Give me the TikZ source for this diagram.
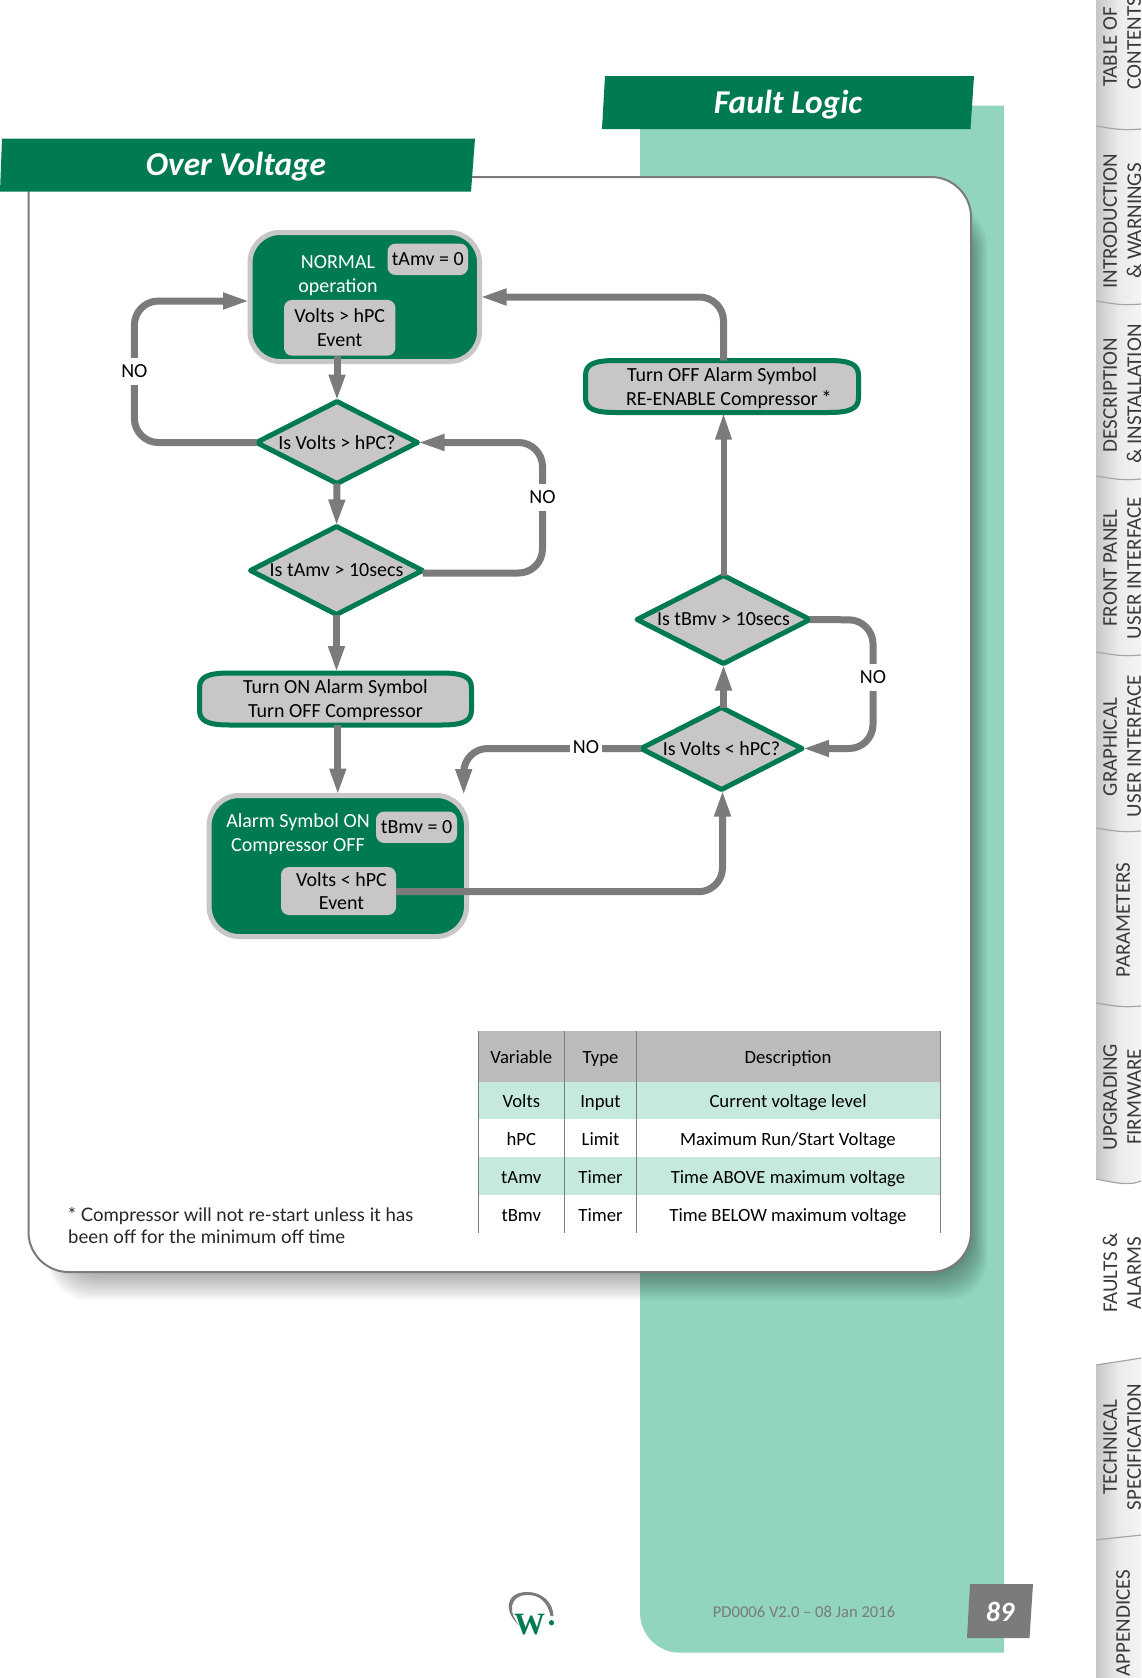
\documentclass[tikz,border=0pt]{standalone}
\usepackage{fontspec}
\setmainfont{Carlito}
\newfontfamily\foot{Lato}
\newfontfamily\serifw{Liberation Serif}
\usetikzlibrary{arrows.meta,shapes.geometric,calc}
\definecolor{brand}{HTML}{007A53}
\definecolor{mint}{HTML}{90D5BC}
\definecolor{pale}{HTML}{C6E9DD}
\definecolor{arrowgrey}{HTML}{7B7B7D}
\definecolor{boxgrey}{HTML}{C8C6C8}
\definecolor{headgrey}{HTML}{BBBBBB}
\definecolor{tabtext}{HTML}{3A3A3A}
\newcommand{\fs}[1]{\fontsize{#1}{#1}\selectfont}
\tikzset{
  every node/.style={outer sep=0pt,inner sep=0pt},
  txt/.style={font=\fs{20},align=center,text=black},
  wtxt/.style={font=\fs{20},align=center,text=white},
  subbox/.style={fill=boxgrey,rounded corners=8pt,font=\fs{20},align=center,text=black},
  statebox/.style={draw=boxgrey,fill=brand,line width=5pt,rounded corners=30pt},
  decide/.style={diamond,draw=brand,fill=boxgrey,line width=5pt,line join=round,font=\fs{20},text=black,shape aspect=1},
  conn/.style={draw=arrowgrey,line width=7pt,rounded corners=24pt},
  tip/.style={-{Triangle[length=27pt,width=15pt]}},
  nolabel/.style={fill=white,font=\fs{20},text=black,minimum width=30pt,minimum height=27pt},
  header/.style={fill=brand},
  title/.style={font=\fs{33.3}\bfseries\itshape,text=white},
  celltxt/.style={font=\fs{18.7},text=black,text height=13pt,text depth=4pt},
  tablerule/.style={draw=arrowgrey,line width=1pt},
  tabl/.style={rotate=90,font=\fs{21},text=tabtext},
  tabsep/.style={draw=black!35,line width=1.2pt},
  elline/.style={draw=brand,fill=boxgrey,line width=5pt}
}
\newcommand{\elbox}[6]{%
  \begin{scope}[shift={(#2,#3)}]
    \def\hw{#4}\def\hh{#5}
    \draw[elline] (-\hw,-\hh+15) .. controls (-\hw,-\hh+4) and (-\hw+8,-\hh) .. (-\hw+30,-\hh)
      -- (\hw-30,-\hh) .. controls (\hw-8,-\hh) and (\hw,-\hh+4) .. (\hw,-\hh+15)
      -- (\hw,\hh-15) .. controls (\hw,\hh-4) and (\hw-8,\hh) .. (\hw-30,\hh)
      -- (-\hw+30,\hh) .. controls (-\hw+8,\hh) and (-\hw,\hh-4) .. (-\hw,\hh-15) -- cycle;
  \end{scope}
  \node[minimum width=2*#4 pt,minimum height=2*#5 pt] (#1) at (#2,#3) {};
  \node[txt] (#1txt) at (#2,#3+1.5) {#6};}
\begin{document}
\begin{tikzpicture}[x=1pt,y=-1pt]
\useasboundingbox (0,0) rectangle (1141,1678);
% tabs
\shade[left color=black!22,right color=black!4,shading angle=90,middle color=black!8] (1096,0) -- (1141,0) -- (1141,1181) .. controls (1130,1186) and (1115,1183) .. (1096,1179) -- cycle;
\shade[left color=black!22,right color=black!4,shading angle=90,middle color=black!8] (1096,1365) .. controls (1115,1362) and (1130,1360) .. (1141,1358) -- (1141,1678) -- (1096,1678) -- cycle;
\foreach \sy in {126,301,476,652,828,1003}{
  \draw[tabsep] (1096,\sy) .. controls (1110,\sy+2) and (1120,\sy+5) .. (1141,\sy+3);}
\draw[tabsep] (1096,1540) .. controls (1110,1538) and (1125,1537) .. (1141,1535);
\draw[tabsep] (1096,1179) .. controls (1115,1183) and (1130,1186) .. (1141,1181);
\draw[tabsep] (1096,1365) .. controls (1115,1362) and (1130,1360) .. (1141,1358);
\node[tabl] (t1a) at (1110,47) {TABLE OF};
\node[tabl] (t1b) at (1134,43) {CONTENTS};
\node[tabl] (t2a) at (1110,221) {INTRODUCTION};
\node[tabl] (t2b) at (1134,221) {\& WARNINGS};
\node[tabl] (t3a) at (1110,395) {DESCRIPTION};
\node[tabl] (t3b) at (1134,394) {\& INSTALLATION};
\node[tabl] (t4a) at (1110,568) {FRONT PANEL};
\node[tabl] (t4b) at (1134,568) {USER INTERFACE};
\node[tabl] (t5a) at (1110,747) {GRAPHICAL};
\node[tabl] (t5b) at (1134,746) {USER INTERFACE};
\node[tabl] (t6) at (1123,920) {PARAMETERS};
\node[tabl] (t7a) at (1110,1097) {UPGRADING};
\node[tabl] (t7b) at (1134,1097) {FIRMWARE};
\node[tabl] (t8a) at (1110,1273) {FAULTS \&};
\node[tabl] (t8b) at (1134,1273) {ALARMS};
\node[tabl] (t9a) at (1110,1447) {TECHNICAL};
\node[tabl] (t9b) at (1134,1447) {SPECIFICATION};
\node[tabl] (t10) at (1123,1623) {APPENDICES};
% mint band
\fill[mint] (640,105.7) -- (1004,105.7) -- (1004,1652.7) -- (680,1652.7) .. controls (658,1652.7) and (640,1634.7) .. (640,1612.7) -- cycle;
% shadow
\foreach \i in {0,...,18}{
  \fill[black,opacity=.025,rounded corners=40pt] ({48+\i},{205+\i}) rectangle ({987-1.1*\i},{1300-1.8*\i});}
% panel
\draw[draw=arrowgrey,fill=white,line width=2pt] (28.5,177) -- (931,177) .. controls (953,177) and (971,195) .. (971,217) -- (971,1232) .. controls (971,1254) and (953,1272) .. (931,1272) -- (68.5,1272) .. controls (46.5,1272) and (28.5,1254) .. (28.5,1232) -- cycle;
% headers
\fill[header] (2,138.7) -- (475,138.7) -- (471,191.7) -- (0,191.7) -- cycle;
\node[title] (ovt) at (236,166.5) {Over Voltage};
\fill[header] (605,76) -- (974,76) -- (970.5,129) -- (602,129) -- cycle;
\node[title] (flt) at (788,105) {Fault Logic};
% state boxes
\node[statebox,minimum width=229.5pt,minimum height=129pt] (normal) at (364.75,297) {};
\node[wtxt] (normaltxt) at (338,276) {NORMAL\\[4pt]operation};
\node[subbox,minimum width=80.5pt,minimum height=31.5pt] (tamv) at (427.8,259.3) {\raisebox{1pt}{tAmv = 0}};
\node[subbox,minimum width=111.4pt,minimum height=55.7pt] (evover) at (339.7,327.8) {Volts > hPC\\[4pt]Event};
\node[statebox,minimum width=257.4pt,minimum height=141pt] (alarm) at (337.8,866) {};
\node[wtxt] (alarmtxt) at (298,834) {Alarm Symbol ON\\[4pt]Compressor OFF};
\node[subbox,minimum width=81pt,minimum height=31.3pt] (tbmv) at (416.5,827.3) {tBmv = 0};
\node[subbox,minimum width=115pt,minimum height=48pt] (evunder) at (338.5,891) {\raisebox{-1pt}{\hspace*{6pt}Volts < hPC}\\[4pt]\hspace*{6pt}Event};
% decisions
\node[decide,minimum width=161pt,minimum height=82pt] (d1) at (337,442.5) {\makebox[0pt]{Is Volts > hPC?}};
\node[decide,minimum width=172pt,minimum height=88pt] (d2) at (336.5,570.5) {\makebox[0pt]{Is tAmv > 10secs}};
\node[decide,minimum width=161pt,minimum height=82pt] (d3) at (721.5,748.5) {\makebox[0pt]{Is Volts < hPC?}};
\node[decide,minimum width=173pt,minimum height=88pt] (d4) at (723.5,619.5) {\makebox[0pt]{Is tBmv > 10secs}};
% action boxes
\elbox{alarmon}{335.5}{699}{136}{26}{Turn ON Alarm Symbol\\[4pt]Turn OFF Compressor}
\elbox{alarmoff}{722}{386.5}{136.5}{26}{Turn OFF Alarm Symbol\\[4pt]RE-ENABLE Compressor}
\node[font=\fs{21},text=black] (star) at (826.5,398) {*};
% connector waypoints
\coordinate (wa) at (134.4,442.5);
\coordinate (wb) at (134.4,301);
\coordinate (wc) at (542.5,573);
\coordinate (wd) at (542.5,442.5);
\coordinate (we) at (723.5,297);
\coordinate (wf) at (873,620);
\coordinate (wg) at (873,748.5);
\coordinate (wh) at (463.7,748.5);
\coordinate (wi) at (722.5,891.7);
% connectors
\draw[conn,tip] (evover.south -| d1.north) -- (d1.north);
\draw[conn,tip] (d1.south) -- (d2.north);
\draw[conn,tip] (d2.south) -- (alarmon.north -| d2.south);
\draw[conn,tip] (alarmon.south -| alarm.north) -- (alarm.north);
\draw[conn,tip] (d1.west) -- (wa) -- (wb) -- (normal.west |- wb);
\draw[conn,tip] (d2.east |- wc) -- (wc) -- (wd) -- (d1.east);
\draw[conn,tip] (alarmoff.north -| we) -- (we) -- (normal.east |- we);
\draw[conn,tip,line width=6pt] (d4.north) -- (alarmoff.south -| d4.north);
\draw[conn,tip] (d3.north -| d4.south) -- (d4.south);
\draw[conn,tip] (d4.east) -- (wf) -- (wg) -- (d3.east);
\draw[conn,tip] (d3.west) -- (wh) -- (463.7,796);
\draw[conn,tip] (evunder.east |- wi) -- (wi) -- (wi |- d3.south);
% connector labels
\node[nolabel] (no1) at (134.4,371) {NO};
\node[nolabel] (no2) at (542.5,497) {NO};
\node[nolabel] (no3) at (873,677.5) {NO};
\node[nolabel,minimum height=24pt,minimum width=32pt] (no4) at (586,747) {NO};
% table
\fill[headgrey] (478.3,1030.7) rectangle (940,1082);
\fill[pale] (478.3,1082) rectangle (940,1119.3);
\fill[pale] (478.3,1157.3) rectangle (940,1195);
\foreach \vx in {478.3,564.4,636.5,940}{\draw[tablerule] (\vx,1030.7) -- (\vx,1232.7);}
\node[celltxt] (h1) at (521.3,1059) {Variable};
\node[celltxt] (h2) at (600.5,1059) {Type};
\node[celltxt] (h3) at (788,1059) {Description};
\node[celltxt] (a1) at (521.3,1103.3) {Volts};
\node[celltxt] (a2) at (600.5,1103.3) {Input};
\node[celltxt] (a3) at (788,1103.3) {Current voltage level};
\node[celltxt] (b1) at (521.3,1141) {hPC};
\node[celltxt] (b2) at (600.5,1141) {Limit};
\node[celltxt] (b3) at (788,1141) {Maximum Run/Start Voltage};
\node[celltxt] (c1) at (521.3,1179) {tAmv};
\node[celltxt] (c2) at (600.5,1179) {Timer};
\node[celltxt] (c3) at (788,1179) {Time ABOVE maximum voltage};
\node[celltxt] (e1) at (521.3,1216.5) {tBmv};
\node[celltxt] (e2) at (600.5,1216.5) {Timer};
\node[celltxt] (e3) at (788,1216.5) {Time BELOW maximum voltage};
% footnote
\node[font=\foot\fontsize{18.6}{21.7}\selectfont,align=left,anchor=west,text=black!85] (fn) at (68.2,1225.5) {* Compressor will not re-start unless it has\\been off for the minimum off time};
% footer
\node[font=\fs{16.6},text=arrowgrey] (ver) at (804,1612) {PD0006 V2.0 -- 08 Jan 2016};
\fill[arrowgrey] (970,1584) -- (1033,1584) -- (1029.5,1638) -- (967,1638) -- cycle;
\node[font=\fs{28}\bfseries\itshape,text=white] (pg) at (1000,1612) {89};
% logo
\fill[arrowgrey] (520,1626) .. controls (503,1612) and (505,1592) .. (527,1592) .. controls (543,1592) and (553,1603) .. (553.5,1616) -- (550.5,1616) .. controls (548,1603) and (540,1594.5) .. (527,1595) .. controls (510,1595) and (507,1612) .. (520,1626) -- cycle;
\node[font=\serifw\bfseries\fs{31},text=brand] (logow) at (529.5,1624.5) {W};
\fill[brand] (551.5,1622.7) circle (2.6pt);
\end{tikzpicture}
\end{document}
